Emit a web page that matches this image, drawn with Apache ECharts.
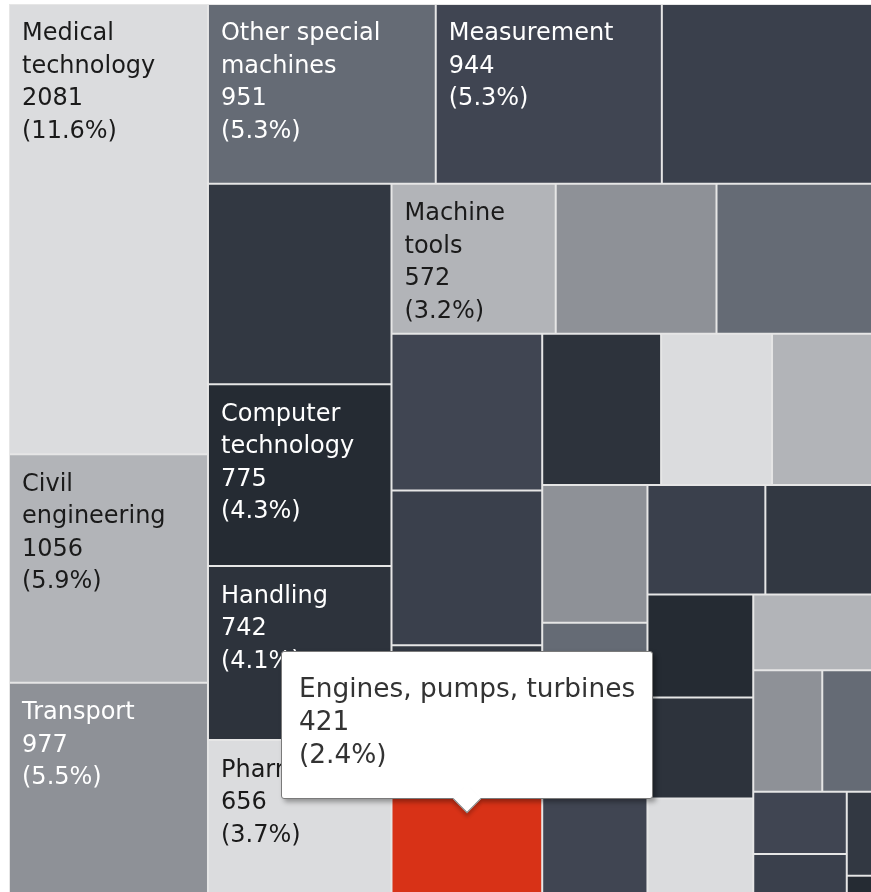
<!DOCTYPE html>
<html>
<head>
<meta charset="utf-8">
<script src="https://cdn.jsdelivr.net/npm/echarts@6.0.0/dist/echarts.min.js"></script>
<style>
  html, body { margin: 0; padding: 0; background: #fff; }
  #chart { width: 871px; height: 892px; }
</style>
</head>
<body>
<div id="chart"></div>
<script>
// cells in layout order, biggest first; unlabeled cells have no readable name
const names = [
  'Medical technology', 'Civil engineering', 'Transport',
  'Other special machines', 'Measurement', '',
  '', 'Computer technology', 'Handling', 'Pharmaceuticals',
  'Machine tools', '', '',
  '', '', '', 'Engines, pumps, turbines',
  '', '', '',
  '', '', '',
  '', '',
  '', '', '',
  '',
  '', '', '', '', '', ''
]
const values = [
  2081, 1056, 977,
  951, 944, 890,
  855, 775, 742, 656,
  572, 560, 552,
  549, 542, 450, 421,
  418, 390, 362,
  337, 333, 330,
  300, 279,
  253, 248, 235,
  214,
  195, 149, 135, 87, 55, 12
]
// how many cells go in each strip (columns and rows alternate)
const stripSizes = [3, 3, 4, 3, 4, 3, 3, 2, 3, 1, 6]

const palette = ['#dbdcde', '#b2b4b8', '#8e9197', '#656b75', '#404552', '#3a404c', '#323842', '#252b33', '#2d333c']
const hovered = 'Engines, pumps, turbines'
const hoverColor = '#d83217'
const font = 'DejaVu Sans'

const total = values.reduce((a, b) => a + b, 0)
const pct = v => (v / total * 100).toFixed(1) + '%'

function leaf(i) {
  const name = names[i]
  return {
    name: name,
    value: values[i],
    itemStyle: {
      color: name === hovered ? hoverColor : palette[i % palette.length],
      borderWidth: 1,
      borderColor: '#e6e6e6'
    },
    label: {
      show: name !== '' && name !== hovered,
      color: i % palette.length < 2 ? '#1a1a1a' : '#fff',
      overflow: name === 'Pharmaceuticals' ? 'none' : 'break'
    }
  }
}

const strips = []
let start = 0
stripSizes.forEach(n => {
  const s = []
  for (let i = start; i < start + n; i++) s.push(i)
  strips.push(s)
  start += n
})

// nest strips so the squarify layout keeps the column / row order
function build(k) {
  const items = strips[k].map(leaf)
  if (k === strips.length - 1) return items
  const rest = { children: build(k + 1) }
  return k % 2 === 0 ? [{ children: items }, rest] : items.concat([rest])
}

const arrow = '<div style="position:absolute;left:50%;bottom:-11px;width:19px;height:19px;margin-left:-10px;' +
  'background:#fff;border-right:1px solid #7a7a7a;border-bottom:1px solid #7a7a7a;' +
  'transform:rotate(45deg);box-shadow:3px 3px 4px rgba(0,0,0,0.2)"></div>'

const chart = echarts.init(document.getElementById('chart'))
chart.setOption({
  animation: false,
  tooltip: {
    trigger: 'item',
    triggerOn: 'none',
    alwaysShowContent: true,
    transitionDuration: 0,
    backgroundColor: '#fff',
    borderColor: '#7a7a7a',
    borderWidth: 1,
    padding: [19, 17, 28, 17],
    textStyle: { fontFamily: font, fontSize: 26.4, color: '#333' },
    extraCssText: 'box-shadow:3px 3px 5px rgba(0,0,0,0.35);border-radius:3px;',
    formatter: p => '<div style="line-height:33px">' + p.name + '<br/>' + p.value + '<br/>(' + pct(p.value) + ')</div>' + arrow,
    position: (pt, params, dom, rect, size) => [pt[0] - size.contentSize[0] / 2, pt[1] - size.contentSize[1] - 35]
  },
  series: [{
    type: 'treemap',
    left: 9,
    top: 4,
    width: 866,
    height: 890,
    sort: false,
    roam: false,
    nodeClick: false,
    visibleMin: 0,
    breadcrumb: { show: false },
    itemStyle: { borderWidth: 0, gapWidth: 0, borderColor: '#e6e6e6' },
    upperLabel: { show: false },
    label: {
      show: true,
      position: 'insideTopLeft',
      distance: 0,
      padding: [13, 12, 0, 12],
      fontFamily: font,
      fontSize: 24,
      lineHeight: 32.5,
      formatter: p => p.name ? p.name + '\n' + p.value + '\n(' + pct(p.value) + ')' : ''
    },
    data: build(0)
  }]
})

chart.dispatchAction({ type: 'showTip', seriesIndex: 0, name: hovered })
</script>
</body>
</html>
